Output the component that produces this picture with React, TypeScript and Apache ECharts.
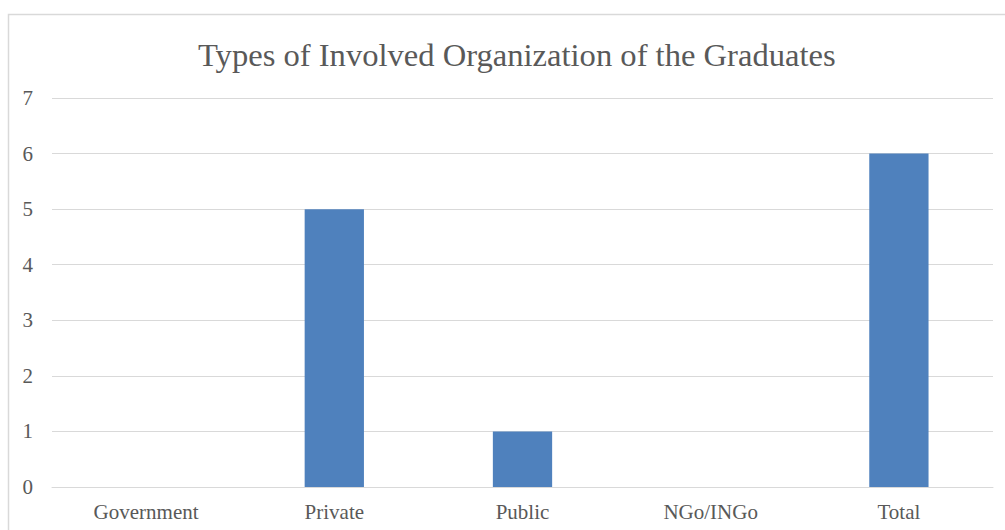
import React, { useEffect, useRef } from "react";
import * as echarts from "echarts";

const categories = ["Government", "Private", "Public", "NGo/INGo", "Total"];
const values = [0, 5, 1, 0, 6];
const titleText = "Types of Involved Organization of the Graduates";

export default function App() {
  const ref = useRef<HTMLDivElement>(null);
  useEffect(() => {
    if (!ref.current) return;
    const chart = echarts.init(ref.current, null, { renderer: "svg" });
    const font = "Liberation Serif";
    chart.setOption({
      animation: false,
      backgroundColor: "#ffffff",
      title: {
        text: titleText,
        left: 193,
        top: 33,
        textStyle: { fontFamily: font, fontSize: 32.6, fontWeight: "normal", color: "#595959" },
      },
      graphic: [
        {
          type: "rect",
          shape: { x: 8.5, y: 14.5, width: 1010, height: 530 },
          style: { fill: "none", stroke: "#d9d9d9", lineWidth: 1.5 },
          silent: true,
        },
      ],
      grid: { left: 52, right: 12, top: 98, bottom: 43, containLabel: false },
      xAxis: {
        type: "category",
        data: categories,
        axisLine: { show: true, lineStyle: { color: "#d9d9d9", width: 1 } },
        axisTick: { show: false },
        axisLabel: { fontFamily: font, fontSize: 21, color: "#595959", margin: 14 },
      },
      yAxis: {
        type: "value",
        min: 0,
        max: 7,
        interval: 1,
        axisLine: { show: false },
        axisTick: { show: false },
        splitLine: { lineStyle: { color: "#d9d9d9", width: 1 } },
        axisLabel: { fontFamily: font, fontSize: 21, color: "#595959", margin: 19 },
      },
      series: [
        {
          type: "bar",
          data: values,
          barWidth: "31.5%",
          itemStyle: { color: "#4f81bd" },
        },
      ],
    });
    return () => chart.dispose();
  }, []);
  return (
    <div
      ref={ref}
      style={{ position: "absolute", left: 0, top: 0, width: 1005, height: 530 }}
    />
  );
}
